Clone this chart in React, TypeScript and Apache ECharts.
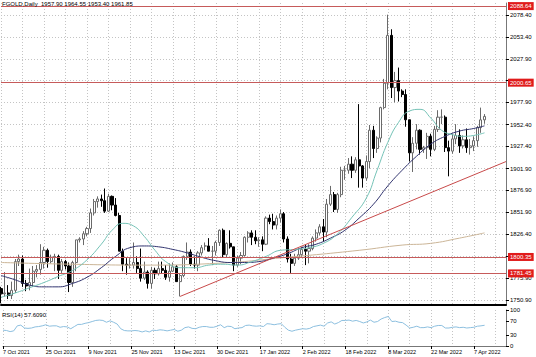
import { useEffect, useRef } from 'react';
import * as echarts from 'echarts';

// ---------- data ----------
const symbolTitle = 'FGOLD,Daily';
const priceTicks = [1750.9, 1775.9, 1801.4, 1826.4, 1851.9, 1876.9, 1901.9, 1927.4, 1952.4, 1977.9, 2002.9, 2027.9, 2053.4, 2078.4];
// tick labels that are not covered by a level label
const priceLabels = [1750.9, 1775.9, 1826.4, 1851.9, 1876.9, 1901.9, 1927.4, 1952.4, 1977.9, 2027.9, 2053.4, 2078.4];
const rsiTicks = [0, 30, 70, 100];
const levelLines = [2088.64, 2000.65, 1800.35, 1781.45];
const extraSessions = ['2021-11-07', '2022-03-13', '2022-03-20'];
const closedSessions = ['2021-12-24'];
const MONTHS = ['Jan', 'Feb', 'Mar', 'Apr', 'May', 'Jun', 'Jul', 'Aug', 'Sep', 'Oct', 'Nov', 'Dec'];

// [open, high, low, close]
const ohlc: number[][] = [
  // 0-9
  [1764, 1766, 1747, 1758], [1758, 1783, 1755, 1759], [1759, 1768, 1752, 1756], [1756, 1772, 1752, 1762], [1762, 1798, 1759, 1795],
  [1795, 1803, 1790, 1798], [1798, 1802, 1766, 1770], [1770, 1774, 1761, 1767], [1767, 1787, 1762, 1771], [1771, 1790, 1766, 1784],
  // 10-19
  [1784, 1791, 1777, 1786], [1786, 1815, 1780, 1794], [1794, 1812, 1787, 1808], [1808, 1810, 1788, 1795], [1795, 1803, 1793, 1800],
  [1800, 1804, 1784, 1801], [1801, 1803, 1775, 1785], [1785, 1798, 1782, 1795], [1795, 1797, 1786, 1790], [1790, 1794, 1760, 1771],
  // 20-29
  [1771, 1796, 1766, 1794], [1794, 1820, 1784, 1820], [1820, 1823, 1817, 1821], [1821, 1830, 1814, 1827], [1827, 1835, 1824, 1833],
  [1833, 1856, 1828, 1851], [1851, 1867, 1848, 1864], [1864, 1870, 1857, 1867], [1867, 1872, 1858, 1865], [1865, 1879, 1851, 1853],
  // 30-39
  [1853, 1873, 1852, 1870], [1870, 1871, 1854, 1860], [1860, 1868, 1847, 1848], [1848, 1851, 1807, 1807], [1807, 1810, 1784, 1792],
  [1792, 1799, 1780, 1791], [1791, 1799, 1787, 1791], [1791, 1817, 1787, 1794], [1794, 1801, 1782, 1787], [1787, 1810, 1772, 1776],
  // 40-49
  [1776, 1795, 1774, 1783], [1783, 1785, 1764, 1770], [1770, 1789, 1764, 1785], [1785, 1788, 1775, 1781], [1781, 1795, 1779, 1787],
  [1787, 1795, 1781, 1785], [1785, 1791, 1774, 1777], [1777, 1793, 1772, 1784], [1784, 1794, 1783, 1789], [1789, 1791, 1772, 1772],
  // 50-59
  [1772, 1782, 1755, 1779], [1779, 1802, 1777, 1801], [1801, 1817, 1797, 1806], [1806, 1809, 1790, 1792], [1792, 1801, 1787, 1791],
  [1791, 1807, 1784, 1805], [1805, 1814, 1802, 1811], [1813, 1817, 1808, 1813], [1813, 1822, 1807, 1807], [1807, 1813, 1791, 1807],
  // 60-69
  [1807, 1819, 1802, 1817], [1817, 1832, 1813, 1831], [1831, 1833, 1800, 1803], [1803, 1817, 1800, 1816], [1816, 1831, 1810, 1812],
  [1812, 1812, 1784, 1791], [1791, 1802, 1789, 1799], [1799, 1806, 1792, 1802], [1802, 1824, 1801, 1823], [1823, 1830, 1817, 1828],
  // 70-79
  [1828, 1831, 1814, 1823], [1823, 1831, 1815, 1819], [1819, 1823, 1812, 1820], [1820, 1824, 1807, 1815], [1815, 1847, 1814, 1845],
  [1845, 1849, 1838, 1841], [1841, 1850, 1832, 1837], [1837, 1848, 1832, 1845], [1845, 1855, 1840, 1850], [1850, 1852, 1817, 1821],
  // 80-89
  [1821, 1824, 1794, 1798], [1798, 1804, 1782, 1793], [1793, 1804, 1790, 1799], [1799, 1810, 1797, 1803], [1803, 1812, 1800, 1809],
  [1809, 1814, 1791, 1807], [1807, 1815, 1793, 1810], [1810, 1824, 1808, 1822], [1822, 1832, 1818, 1828], [1828, 1838, 1825, 1835],
  // 90-99
  [1835, 1844, 1818, 1829], [1829, 1867, 1823, 1861], [1861, 1882, 1859, 1872], [1872, 1875, 1852, 1855], [1855, 1874, 1851, 1872],
  [1872, 1904, 1869, 1900], [1900, 1905, 1889, 1900], [1900, 1914, 1896, 1907], [1907, 1916, 1891, 1900], [1900, 1915, 1897, 1912],
  // 100-109
  [1912, 1976, 1880, 1905], [1905, 1906, 1880, 1891], [1891, 1917, 1888, 1910], [1910, 1952, 1902, 1946], [1946, 1951, 1914, 1925],
  [1925, 1939, 1920, 1937], [1937, 1973, 1932, 1972], [1972, 2005, 1970, 2000], [2000, 2078.8, 1993, 2055], [2055, 2062, 1983, 1995],
  // 110-119
  [1995, 2013, 1978, 2003], [2003, 2018, 1979, 1991], [1991, 1993, 1984, 1987], [1987, 1993, 1950, 1958], [1958, 1958, 1910, 1920],
  [1920, 1938, 1898, 1931], [1931, 1953, 1924, 1946], [1946, 1947, 1918, 1924], [1924, 1928, 1920, 1926], [1926, 1943, 1913, 1939],
  // 120-129
  [1939, 1942, 1916, 1924], [1924, 1951, 1922, 1947], [1947, 1969, 1944, 1961], [1961, 1970, 1953, 1961], [1961, 1963, 1921, 1926],
  [1926, 1934, 1893, 1922], [1922, 1942, 1919, 1936], [1936, 1953, 1930, 1940], [1940, 1947, 1920, 1928], [1928, 1940, 1925, 1935],
  // 130-135
  [1935, 1948, 1920, 1926], [1926, 1936, 1918, 1928], [1928, 1939, 1922, 1934], [1934, 1951, 1927, 1949], [1949, 1972, 1943, 1957.9],
  [1957.9, 1964.55, 1953.4, 1961.85],
];

const fastMA: number[][] = [
  [0, 1754], [4, 1759], [8, 1765], [12, 1771], [16, 1778], [20, 1785], [24, 1797], [28, 1815], [31, 1831], [34, 1839],
  [37, 1836], [40, 1824], [43, 1808], [46, 1795], [50, 1788], [54, 1788], [58, 1791], [62, 1792], [66, 1791], [70, 1795],
  [74, 1801], [78, 1808], [82, 1809], [86, 1811], [90, 1816], [94, 1827], [98, 1846], [102, 1868], [105, 1900], [108, 1932],
  [111, 1955], [114, 1968], [117, 1970], [120, 1960], [123, 1946], [126, 1941], [129, 1939], [132, 1940], [135, 1943],
];
const slowMA: number[][] = [
  [0, 1779], [4, 1774], [8, 1768], [12, 1766], [16, 1766], [20, 1770], [24, 1777], [28, 1788], [32, 1801], [36, 1811],
  [40, 1813], [44, 1812], [48, 1809], [52, 1805], [56, 1800], [60, 1796], [64, 1794], [68, 1794], [72, 1795], [76, 1799],
  [80, 1804], [84, 1811], [88, 1815], [92, 1822], [96, 1831], [100, 1845], [104, 1861], [108, 1882], [112, 1900], [116, 1916],
  [120, 1930], [124, 1939], [128, 1945], [132, 1948], [135, 1951],
];
const longMA: number[][] = [
  [0, 1794], [20, 1792], [40, 1791], [60, 1793], [80, 1800], [100, 1808], [112, 1814], [120, 1816], [128, 1822], [135, 1828],
];
const trendLine: number[][] = [[50, 1755], [141, 1910]];

const rsi = [
  44, 43, 40, 42, 56, 58, 50, 49, 50, 53,
  54, 56, 59, 55, 56, 56, 52, 54, 53, 48,
  54, 60, 60, 63, 65, 68, 71, 72, 71, 66,
  70, 66, 61, 48, 43, 42, 42, 43, 42, 39,
  42, 39, 44, 43, 45, 44, 42, 44, 46, 41,
  44, 51, 53, 49, 48, 52, 54, 54, 52, 52,
  55, 59, 51, 55, 54, 48, 50, 51, 57, 58,
  56, 55, 56, 54, 62, 61, 59, 61, 62, 52,
  44, 41, 44, 46, 48, 47, 49, 54, 56, 58,
  55, 64, 67, 61, 65, 71, 71, 72, 69, 71,
  68, 64, 67, 72, 66, 68, 75, 79, 82, 68,
  69, 66, 65, 58, 50, 52, 55, 51, 51, 53,
  51, 55, 57, 57, 50, 50, 52, 53, 51, 52,
  50, 51, 52, 55, 56, 57.609,
];

const SLOT_COUNT = 142;

function buildSessions(count: number): string[] {
  const out: string[] = [];
  const d = new Date(Date.UTC(2021, 9, 7));
  while (out.length < count) {
    const iso = d.toISOString().slice(0, 10);
    const wd = d.getUTCDay();
    const open = (wd >= 1 && wd <= 5 && !closedSessions.includes(iso)) || extraSessions.includes(iso);
    if (open) out.push(`${d.getUTCDate()} ${MONTHS[d.getUTCMonth()]} ${d.getUTCFullYear()}`);
    d.setUTCDate(d.getUTCDate() + 1);
  }
  return out;
}

export default function App() {
  const ref = useRef<HTMLDivElement>(null);

  useEffect(() => {
    if (!ref.current) return;
    const chart = echarts.init(ref.current, null, { renderer: 'svg' });
    const dates = buildSessions(SLOT_COUNT);
    const font = 'Liberation Sans, Arial, sans-serif';
    const last = ohlc[ohlc.length - 1];
    const grid = { lineStyle: { color: '#c4c4c4', type: [1, 2] as any, width: 1 } };

    const levelLabel = (v: number, bg: string) => ({
      show: true,
      position: 'end',
      distance: 2,
      formatter: () => v.toFixed(2),
      backgroundColor: bg,
      color: '#fff',
      fontSize: 6,
      fontFamily: font,
      padding: [1, 2, 1, 2],
    });

    chart.setOption({
      animation: false,
      backgroundColor: '#fff',
      textStyle: { fontFamily: font },
      grid: [
        { left: 1, right: 30, top: 3, height: 302 },
        { left: 1, right: 30, top: 310, height: 36 },
      ],
      xAxis: [
        {
          type: 'category', gridIndex: 0, data: dates, boundaryGap: false,
          axisLine: { show: true, lineStyle: { color: '#000', width: 2 } },
          axisTick: { show: false }, axisLabel: { show: false },
          splitLine: { show: true, interval: (i: number) => i % 6 === 0, ...grid },
        },
        {
          type: 'category', gridIndex: 1, data: dates, boundaryGap: false,
          axisLine: { show: true, lineStyle: { color: '#777', width: 1 } },
          axisTick: { show: true, interval: (i: number) => i % 12 === 0, length: 3, lineStyle: { color: '#000' } },
          axisLabel: { interval: (i: number) => i % 12 === 0, align: 'left', fontSize: 5.5, margin: 3, color: '#000', fontFamily: font },
          splitLine: { show: true, interval: (i: number) => i % 6 === 0, ...grid },
        },
      ],
      yAxis: [
        {
          type: 'value', gridIndex: 0, position: 'right', min: 1745.15, max: 2092.2,
          axisLine: { show: true, lineStyle: { color: '#777' } },
          axisTick: { show: true, length: 3, customValues: priceTicks, lineStyle: { color: '#000' } },
          axisLabel: { customValues: priceLabels, formatter: (v: number) => v.toFixed(2), fontSize: 6, margin: 4, color: '#000', fontFamily: font },
          splitLine: { show: true, ...grid },
        },
        {
          type: 'value', gridIndex: 1, position: 'right', min: 0, max: 100,
          axisLine: { show: true, lineStyle: { color: '#777' } },
          axisTick: { show: true, length: 3, customValues: rsiTicks, lineStyle: { color: '#000' } },
          axisLabel: { customValues: rsiTicks, fontSize: 6, margin: 4, color: '#000', fontFamily: font },
          splitLine: { show: false },
        },
      ],
      series: [
        {
          type: 'candlestick', xAxisIndex: 0, yAxisIndex: 0, barWidth: 2.6,
          data: ohlc.map(([o, h, l, c]) => [o, c, l, h]),
          itemStyle: { color: '#ffffff', color0: '#000000', borderColor: '#6a6a6a', borderColor0: '#000000', borderWidth: 1 },
          markLine: {
            silent: true, symbol: ['none', 'none'], animation: false,
            data: [
              ...levelLines.map((v) => ({ yAxis: v, lineStyle: { color: '#c65a5a', width: 1, type: 'solid' }, label: levelLabel(v, '#e01b1b') })),
              { yAxis: last[3], lineStyle: { width: 0, opacity: 0 }, label: levelLabel(last[3], '#000') },
            ],
          },
        },
        { type: 'line', xAxisIndex: 0, yAxisIndex: 0, data: longMA, smooth: true, symbol: 'none', z: 3, lineStyle: { color: '#cbb597', width: 1 } },
        { type: 'line', xAxisIndex: 0, yAxisIndex: 0, data: slowMA, smooth: true, symbol: 'none', z: 3, lineStyle: { color: '#30336e', width: 1 } },
        { type: 'line', xAxisIndex: 0, yAxisIndex: 0, data: fastMA, smooth: true, symbol: 'none', z: 3, lineStyle: { color: '#74c2b6', width: 1 } },
        { type: 'line', xAxisIndex: 0, yAxisIndex: 0, data: trendLine, symbol: 'none', z: 3, lineStyle: { color: '#c84a4a', width: 1 } },
        { type: 'line', xAxisIndex: 1, yAxisIndex: 1, data: rsi, symbol: 'none', z: 3, lineStyle: { color: '#8cbfdf', width: 1 } },
      ],
      graphic: [
        {
          type: 'text', left: 2, top: 1, z: 100,
          style: { text: `${symbolTitle}  ${last[0].toFixed(2)} ${last[1].toFixed(2)} ${last[2].toFixed(2)} ${last[3].toFixed(2)}`, fontSize: 6, fill: '#000', fontFamily: font },
        },
        {
          type: 'text', left: 2, top: 312, z: 100,
          style: { text: `RSI(14) ${rsi[rsi.length - 1].toFixed(4)}`, fontSize: 6, fill: '#000', fontFamily: font },
        },
      ],
    });
    return () => chart.dispose();
  }, []);

  return <div ref={ref} style={{ position: 'absolute', left: 0, top: 0, width: 536, height: 357 }} />;
}
